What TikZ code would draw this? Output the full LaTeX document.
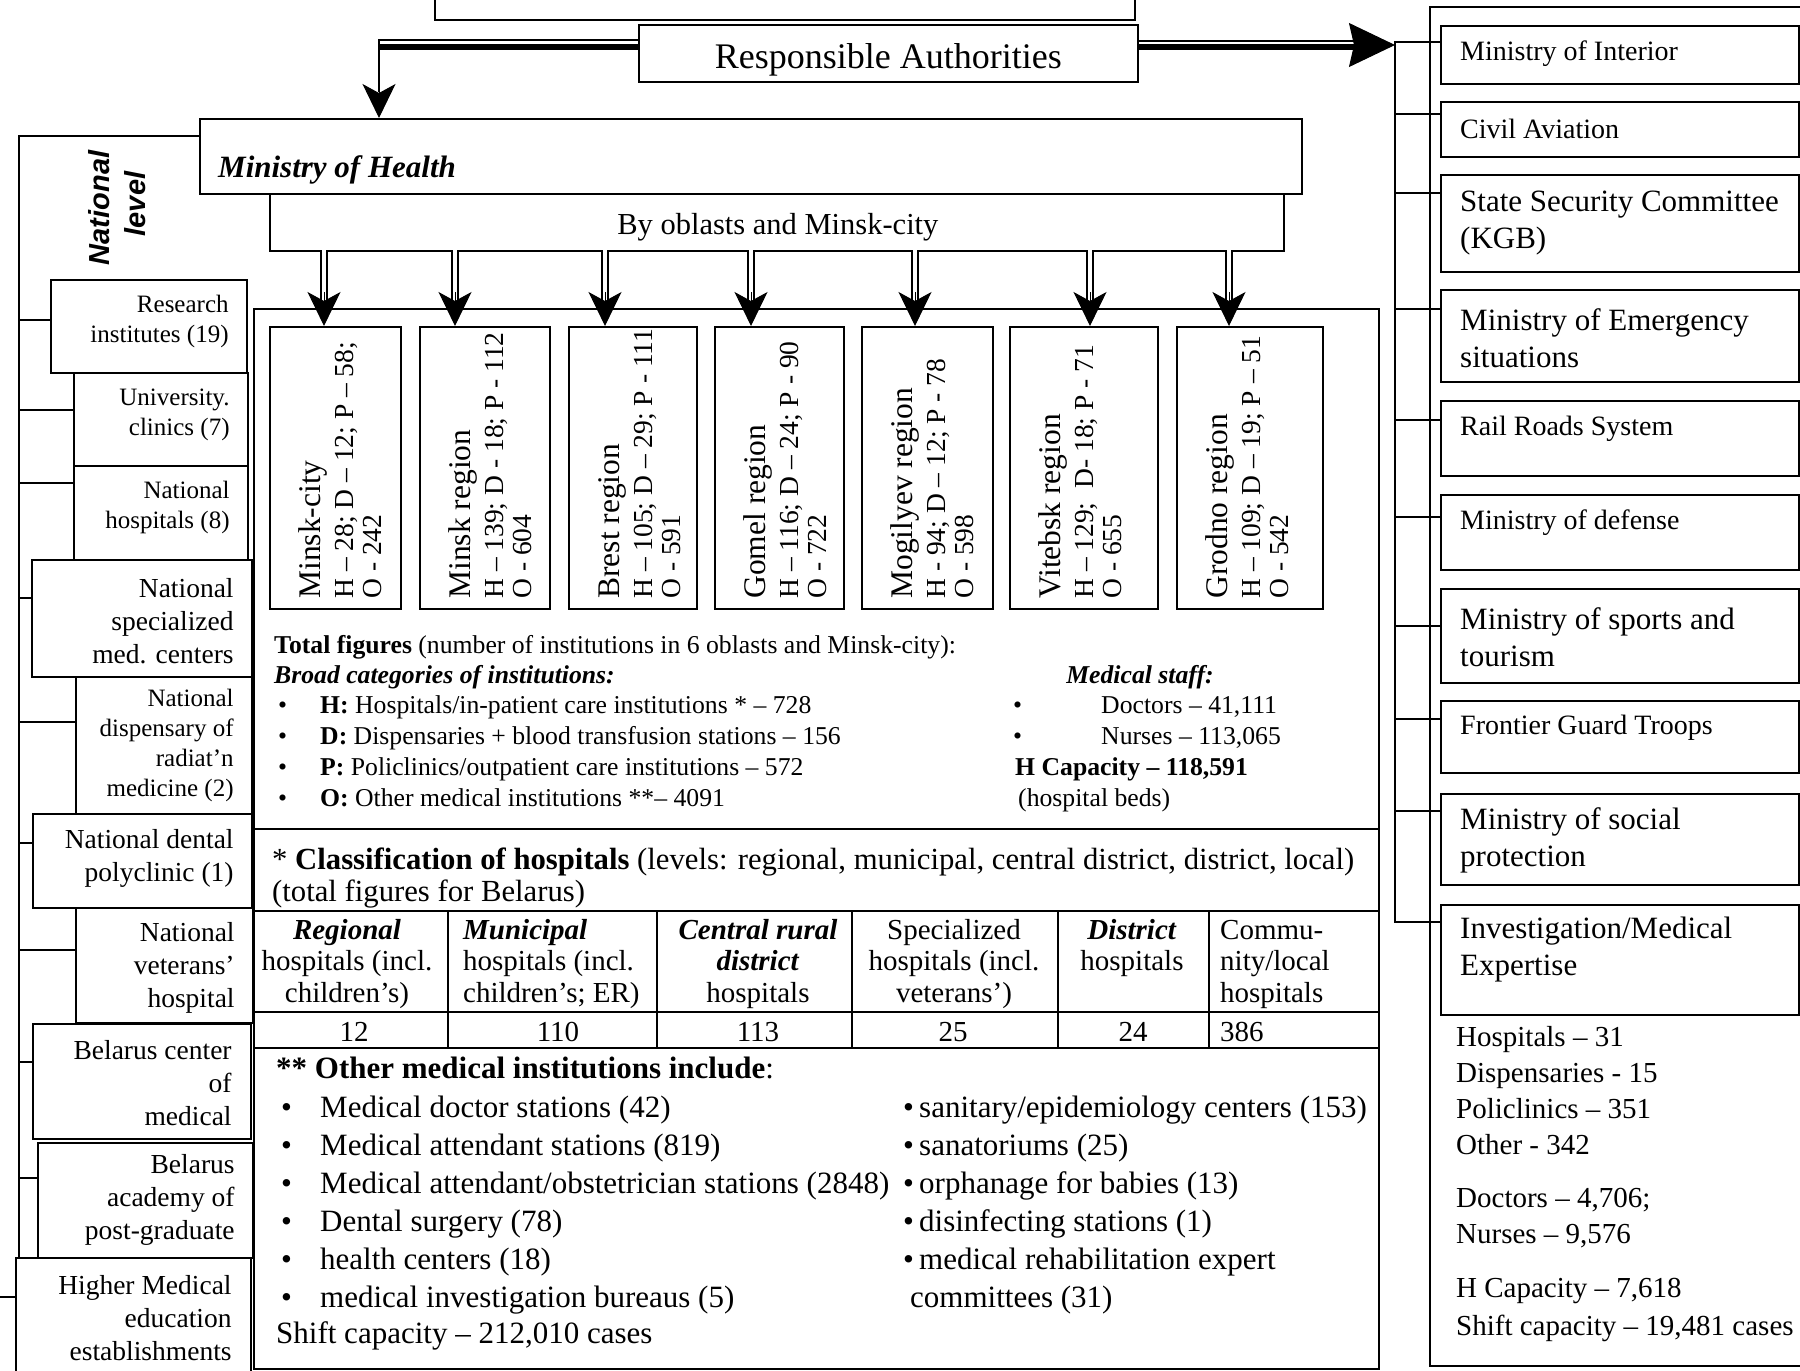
\documentclass[tikz,border=0pt]{standalone}
\usepackage{fontspec}
\setmainfont{Liberation Serif}
\newfontfamily\natfont{Liberation Sans}
\usetikzlibrary{arrows.meta,calc}
\begin{document}
\begin{tikzpicture}[x=1pt,y=-1pt,
  ln/.style={line width=1.8pt},
  box/.style={draw,line width=1.8pt,inner sep=0pt,anchor=north west},
  tx/.style={inner sep=0pt},
  tipS/.style={line width=1pt,-{Stealth[length=34pt,width=33pt,inset=9pt]}},
  dshaft/.style={double,double distance=3.8pt,line width=1.8pt},
  f25/.style={font=\fontsize{25}{30}\selectfont},
  f26/.style={font=\fontsize{25.7}{30}\selectfont},
  f27/.style={font=\fontsize{27.5}{33}\selectfont},
  f28/.style={font=\fontsize{28}{36}\selectfont},
  f29/.style={font=\fontsize{29}{31.5}\selectfont},
  f31/.style={font=\fontsize{31}{37}\selectfont},
  lbox/.style={tx,anchor=east,align=right},
  rbt/.style={tx,anchor=west,align=left},
  bw/.style={tx,anchor=base west},
  rname/.style={tx,rotate=90,anchor=base west,font=\fontsize{31.5}{32}\selectfont},
  rdata/.style={tx,rotate=90,anchor=base west,font=\fontsize{27.5}{28}\selectfont},
]
\useasboundingbox (0,0) rectangle (1800,1371);
\fill[white] (0,0) rectangle (1800,1371);
\clip (0,0) rectangle (1800,1371);

% ---------- top boxes ----------
\node[box,minimum width=700pt,minimum height=58pt] (topbox) at (434,-39) {};
\node[box,minimum width=499pt,minimum height=57pt] (ra) at (638,24) {};
\node[tx,anchor=base,font=\fontsize{36}{40}\selectfont] (ratext) at ($(ra.center)+(0,15)$) {Responsible Authorities};

\node[box,minimum width=1102pt,minimum height=75pt] (moh) at (199,118) {};
\node[bw,font=\fontsize{31}{36}\selectfont\bfseries\itshape] (mohtext) at ($(moh.west)+(19,21)$) {Ministry of Health};
\node[box,minimum width=1014pt,minimum height=57pt] (by) at (269,193) {};
\node[tx,anchor=base,font=\fontsize{30.5}{36}\selectfont] (bytext) at ($(by.center)+(1,12.5)$) {By oblasts and Minsk-city};

% National level
\node[tx,rotate=90,anchor=base,font=\natfont\fontsize{29}{30}\selectfont\bfseries\itshape] (nat1) at (109,208) {National};
\node[tx,rotate=90,anchor=base,font=\natfont\fontsize{29}{30}\selectfont\bfseries\itshape] (nat2) at (145,204) {level};

% ---------- arrows from Responsible Authorities ----------
\coordinate (lcorner) at (379,40);
\draw[line width=2pt] (ra.west |- lcorner) -- (lcorner) -- ($(lcorner |- moh.north)+(0,-26)$);
\draw[line width=6pt] ($(ra.west |- lcorner)+(0,6.5)$) -- ($(lcorner)+(0,6.5)$);
\draw[tipS] ($(lcorner |- moh.north)+(0,-34)$) -- (lcorner |- moh.north);

\coordinate (rtip) at (1395,45);
\draw[line width=2pt] ($(ra.east |- rtip)+(0,-4.5)$) -- ($(rtip)+(-40,-4.5)$);
\draw[line width=6pt] ($(ra.east |- rtip)+(0,1.5)$) -- ($(rtip)+(-40,1.5)$);
\draw[line width=1pt,-{Stealth[length=46pt,width=44pt,inset=5pt]}] ($(rtip)+(-46,0)$) -- (rtip);

% ---------- container ----------
\node[box,minimum width=1125pt,minimum height=1060pt] (cont) at (253,308) {};

% region boxes
\node[box,minimum width=131pt,minimum height=282pt] (r1) at (269,326) {};
\node[box,minimum width=130pt,minimum height=282pt] (r2) at (419,326) {};
\node[box,minimum width=128pt,minimum height=282pt] (r3) at (568,326) {};
\node[box,minimum width=129pt,minimum height=282pt] (r4) at (714,326) {};
\node[box,minimum width=131pt,minimum height=282pt] (r5) at (861,326) {};
\node[box,minimum width=148pt,minimum height=282pt] (r6) at (1009,326) {};
\node[box,minimum width=146pt,minimum height=282pt] (r7) at (1176,326) {};

\node[rname] at ($(r1.south west)+(51,-11)$) {Minsk-city};
\node[rdata] at ($(r1.south west)+(84,-11)$) {H – 28; D – 12; P – 58;};
\node[rdata] at ($(r1.south west)+(112,-11)$) {O - 242};
\node[rname] at ($(r2.south west)+(51,-11)$) {Minsk region};
\node[rdata] at ($(r2.south west)+(84,-11)$) {H – 139; D - 18; P - 112};
\node[rdata] at ($(r2.south west)+(112,-11)$) {O - 604};
\node[rname] at ($(r3.south west)+(51,-11)$) {Brest region};
\node[rdata] at ($(r3.south west)+(84,-11)$) {H – 105; D – 29; P - 111};
\node[rdata] at ($(r3.south west)+(112,-11)$) {O - 591};
\node[rname] at ($(r4.south west)+(51,-11)$) {Gomel region};
\node[rdata] at ($(r4.south west)+(84,-11)$) {H – 116; D – 24; P - 90};
\node[rdata] at ($(r4.south west)+(112,-11)$) {O - 722};
\node[rname] at ($(r5.south west)+(51,-11)$) {Mogilyev region};
\node[rdata] at ($(r5.south west)+(84,-11)$) {H - 94; D – 12; P - 78};
\node[rdata] at ($(r5.south west)+(112,-11)$) {O - 598};
\node[rname] at ($(r6.south west)+(51,-11)$) {Vitebsk region};
\node[rdata] at ($(r6.south west)+(84,-11)$) {H – 129;\ \ D- 18; P - 71};
\node[rdata] at ($(r6.south west)+(112,-11)$) {O - 655};
\node[rname] at ($(r7.south west)+(51,-11)$) {Grodno region};
\node[rdata] at ($(r7.south west)+(84,-11)$) {H – 109; D – 19; P – 51};
\node[rdata] at ($(r7.south west)+(112,-11)$) {O - 542};

% arrows to regions
\coordinate (a1) at (324,250);
\coordinate (a2) at (455,250);
\coordinate (a3) at (605,250);
\coordinate (a4) at (751,250);
\coordinate (a5) at (915,250);
\coordinate (a6) at (1090,250);
\coordinate (a7) at (1229,250);
\foreach \i in {1,...,7}{
  \draw[dshaft] (a\i) -- ($(a\i |- r\i.north)+(0,-26)$);
  \draw[tipS] ($(a\i |- r\i.north)+(0,-34)$) -- (a\i |- r\i.north);
}

% total figures
\node[bw,f26] at (274,653) {\textbf{Total figures} (number of institutions in 6 oblasts and Minsk-city):};
\node[bw,f26] at (274,683) {\textbf{\textit{Broad categories of institutions:}}};
\node[bw,f26] at (278,713) {•};
\node[bw,f26] at (278,744) {•};
\node[bw,f26] at (278,775) {•};
\node[bw,f26] at (278,806) {•};
\node[bw,f26] at (320,713) {\textbf{H:} Hospitals/in-patient care institutions * – 728};
\node[bw,f26] at (320,744) {\textbf{D:} Dispensaries + blood transfusion stations – 156};
\node[bw,f26] at (320,775) {\textbf{P:} Policlinics/outpatient care institutions – 572};
\node[bw,f26] at (320,806) {\textbf{O:} Other medical institutions **– 4091};
\node[tx,f26,anchor=base] at (1140,683) {\textbf{\textit{Medical staff:}}};
\node[bw,f26] at (1013,713) {•};
\node[bw,f26] at (1013,744) {•};
\node[bw,f26] at (1101,713) {Doctors – 41,111};
\node[bw,f26] at (1101,744) {Nurses – 113,065};
\node[bw,f26] at (1015,775) {\textbf{H Capacity – 118,591}};
\node[bw,f26] at (1018,806) {(hospital beds)};

% classification
\draw[ln] ($(cont.north west)+(0,521)$) -- ($(cont.north east)+(0,521)$);
\node[bw,font=\fontsize{30.7}{37}\selectfont] at (272,869) {* \textbf{Classification of hospitals} (levels: regional, municipal, central district, district, local)};
\node[bw,font=\fontsize{30.7}{37}\selectfont] at (272,901) {(total figures for Belarus)};
\draw[ln] ($(cont.north west)+(0,603)$) -- ($(cont.north east)+(0,603)$);
\draw[ln] ($(cont.north west)+(0,704)$) -- ($(cont.north east)+(0,704)$);
\draw[ln] ($(cont.north west)+(0,740)$) -- ($(cont.north east)+(0,740)$);
\foreach \cx in {195,404,599,805,956}{
  \draw[ln] ($(cont.north west)+(\cx,603)$) -- ($(cont.north west)+(\cx,740)$);
}
% (multi-line nodes: base anchor = last line)
\node[tx,f29,anchor=base,align=center] at (347,1002) {\textbf{\textit{Regional}}\\hospitals (incl.\\children’s)};
\node[tx,f29,anchor=base west,align=left] at (463,1002) {\textbf{\textit{Municipal}}\\hospitals (incl.\\children’s; ER)};
\node[tx,f29,anchor=base,align=center] at (758,1002) {\textbf{\textit{Central rural}}\\\textbf{\textit{district}}\\hospitals};
\node[tx,f29,anchor=base,align=center] at (954,1002) {Specialized\\hospitals (incl.\\veterans’)};
\node[tx,f29,anchor=base,align=center] at (1132,970.5) {\textbf{\textit{District}}\\hospitals};
\node[tx,f29,anchor=base west,align=left] at (1220,1002) {Commu-\\nity/local\\hospitals};
\node[tx,f29,anchor=base] at (354,1041) {12};
\node[tx,f29,anchor=base] at (558,1041) {110};
\node[tx,f29,anchor=base] at (758,1041) {113};
\node[tx,f29,anchor=base] at (953,1041) {25};
\node[tx,f29,anchor=base] at (1133,1041) {24};
\node[bw,f29] at (1220,1041) {386};

% other institutions
\node[bw,f31] at (276,1078) {\textbf{** Other medical institutions include}:};
\foreach \yy in {1117,1155,1193,1231,1269,1307}{\node[bw,f31] at (281,\yy) {•};}
\node[bw,f31] at (320,1117) {Medical doctor stations (42)};
\node[bw,f31] at (320,1155) {Medical attendant stations (819)};
\node[bw,f31] at (320,1193) {Medical attendant/obstetrician stations (2848)};
\node[bw,f31] at (320,1231) {Dental surgery (78)};
\node[bw,f31] at (320,1269) {health centers (18)};
\node[bw,f31] at (320,1307) {medical investigation bureaus (5)};
\node[bw,f31] at (903,1117) {•\,sanitary/epidemiology centers (153)};
\node[bw,f31] at (903,1155) {•\,sanatoriums (25)};
\node[bw,f31] at (903,1193) {•\,orphanage for babies (13)};
\node[bw,f31] at (903,1231) {•\,disinfecting stations (1)};
\node[bw,f31] at (903,1269) {•\,medical rehabilitation expert};
\node[bw,f31] at (910,1307) {committees (31)};
\node[bw,f31] at (276,1343) {Shift capacity – 212,010 cases};

% ---------- left column ----------
\node[box,minimum width=196pt,minimum height=93pt] (res) at (50,279) {};
\node[box,minimum width=174pt,minimum height=93pt] (uni) at (73,372) {};
\node[box,minimum width=174pt,minimum height=94pt] (nh) at (73,465) {};
\node[box,minimum width=220pt,minimum height=117pt] (spec) at (31,559) {};
\node[box,minimum width=176pt,minimum height=137pt] (disp) at (75,676) {};
\node[box,minimum width=219pt,minimum height=94pt] (dent) at (32,813) {};
\node[box,minimum width=177pt,minimum height=115pt] (vet) at (75,907) {};
\node[box,minimum width=218pt,minimum height=115pt] (cen) at (32,1023) {};
\node[box,minimum width=215pt,minimum height=115pt] (acad) at (37,1142) {};
\node[box,minimum width=235pt,minimum height=130pt] (high) at (15,1257) {};

\node[lbox,f25] at ($(res.east)+(-19,-5)$) {Research\\institutes (19)};
\node[lbox,f25] at ($(uni.east)+(-19,-5)$) {University.\\clinics (7)};
\node[lbox,f25] at ($(nh.east)+(-19,-5)$) {National\\hospitals (8)};
\node[lbox,f27] at ($(spec.east)+(-19,3)$) {National\\specialized\\med. centers};
\node[lbox,f25] at ($(disp.east)+(-19,0)$) {National\\dispensary of\\radiat’n\\medicine (2)};
\node[lbox,f27] at ($(dent.east)+(-19,-2)$) {National dental\\polyclinic (1)};
\node[lbox,f27] at ($(vet.east)+(-19,2)$) {National\\veterans’\\hospital};
\node[lbox,f27] at ($(cen.east)+(-20,2)$) {Belarus center\\of\\medical};
\node[lbox,f27] at ($(acad.east)+(-19,0)$) {Belarus\\academy of\\post-graduate};
\node[lbox,f27] at ($(high.east)+(-20,-5)$) {Higher Medical\\education\\establishments};

\coordinate (lbusT) at (19,136);
\coordinate (lbusB) at (19,1257);
\coordinate (ledge) at (0,0);
\draw[ln] (moh.west |- lbusT) -- (lbusT) -- (lbusB);
\path ($(res.north west)+(0,41)$) coordinate (cres);
\path ($(uni.north west)+(0,38)$) coordinate (cuni);
\path ($(nh.north west)+(0,18)$) coordinate (cnh);
\path ($(spec.north west)+(0,39)$) coordinate (cspec);
\path ($(disp.north west)+(0,46)$) coordinate (cdisp);
\path ($(dent.north west)+(0,30)$) coordinate (cdent);
\path ($(vet.north west)+(0,43)$) coordinate (cvet);
\path ($(cen.north west)+(0,39)$) coordinate (ccen);
\path ($(acad.north west)+(0,36)$) coordinate (cacad);
\path ($(high.north west)+(0,40)$) coordinate (chigh);
\foreach \c in {cres,cuni,cnh,cspec,cdisp,cdent,cvet,ccen,cacad}{
  \draw[ln] (\c) -- (\c -| lbusT);
}
\draw[ln] (chigh) -- (chigh -| ledge);

% ---------- right column ----------
\draw[ln] (1810,7) -- (1430,7) -- (1430,1366) -- (1810,1366);
\node[box,minimum width=358pt,minimum height=58pt] (int) at (1440,25) {};
\node[box,minimum width=358pt,minimum height=55pt] (civ) at (1440,101) {};
\node[box,minimum width=358pt,minimum height=97pt] (kgb) at (1440,174) {};
\node[box,minimum width=358pt,minimum height=92pt] (eme) at (1440,289) {};
\node[box,minimum width=358pt,minimum height=75pt] (rail) at (1440,400) {};
\node[box,minimum width=358pt,minimum height=75pt] (def) at (1440,494) {};
\node[box,minimum width=358pt,minimum height=94pt] (spo) at (1440,588) {};
\node[box,minimum width=358pt,minimum height=72pt] (fro) at (1440,700) {};
\node[box,minimum width=358pt,minimum height=91pt] (soc) at (1440,793) {};
\node[box,minimum width=358pt,minimum height=110pt] (inv) at (1440,904) {};

\node[rbt,f28] at ($(int.north west)+(20,29)$) {Ministry of Interior};
\node[rbt,f28] at ($(civ.north west)+(20,28)$) {Civil Aviation};
\node[rbt,f31] at ($(kgb.north west)+(20,49.5)$) {State Security Committee\\(KGB)};
\node[rbt,f31] at ($(eme.north west)+(20,49)$) {Ministry of Emergency\\situations};
\node[rbt,f28] at ($(rail.north west)+(20,29)$) {Rail Roads System};
\node[rbt,f28] at ($(def.north west)+(20,29)$) {Ministry of defense};
\node[rbt,f31] at ($(spo.north west)+(20,49)$) {Ministry of sports and\\tourism};
\node[rbt,f28] at ($(fro.north west)+(20,28)$) {Frontier Guard Troops};
\node[rbt,f31] at ($(soc.north west)+(20,47)$) {Ministry of social\\protection};
\node[rbt,f31] at ($(inv.north west)+(20,46)$) {Investigation/Medical\\Expertise};

\coordinate (rbus) at (1395,42);
\path ($(inv.north west)+(0,18)$) coordinate (cinv);
\draw[ln] (int.west |- rbus) -- (rbus) -- (rbus |- cinv) -- (cinv);
\path ($(civ.north west)+(0,13)$) coordinate (cciv);
\path ($(kgb.north west)+(0,19)$) coordinate (ckgb);
\path ($(eme.north west)+(0,20)$) coordinate (ceme);
\path ($(rail.north west)+(0,20)$) coordinate (crail);
\path ($(def.north west)+(0,23)$) coordinate (cdef);
\path ($(spo.north west)+(0,38)$) coordinate (cspo);
\path ($(fro.north west)+(0,19)$) coordinate (cfro);
\path ($(soc.north west)+(0,18)$) coordinate (csoc);
\foreach \c in {cciv,ckgb,ceme,crail,cdef,cspo,cfro,csoc}{
  \draw[ln] (\c) -- (\c -| rbus);
}

\node[bw,font=\fontsize{29}{36}\selectfont] at (1456,1046) {Hospitals – 31};
\node[bw,font=\fontsize{29}{36}\selectfont] at (1456,1082) {Dispensaries - 15};
\node[bw,font=\fontsize{29}{36}\selectfont] at (1456,1118) {Policlinics – 351};
\node[bw,font=\fontsize{29}{36}\selectfont] at (1456,1154) {Other - 342};
\node[bw,font=\fontsize{29}{36}\selectfont] at (1456,1207) {Doctors – 4,706;};
\node[bw,font=\fontsize{29}{36}\selectfont] at (1456,1243) {Nurses – 9,576};
\node[bw,font=\fontsize{29}{36}\selectfont] at (1456,1297) {H Capacity – 7,618};
\node[bw,font=\fontsize{29}{36}\selectfont] at (1456,1335) {Shift capacity – 19,481 cases};
\end{tikzpicture}
\end{document}
